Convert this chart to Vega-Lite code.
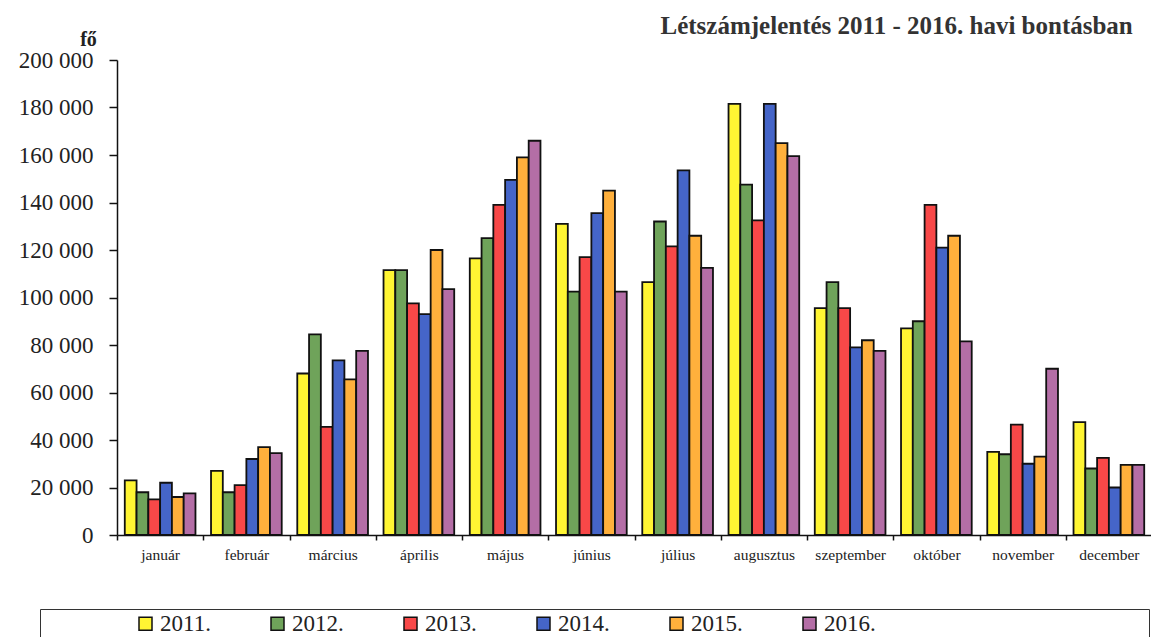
{
  "$schema": "https://vega.github.io/schema/vega-lite/v6.json",
  "width": 1035,
  "height": 475,
  "autosize": {"type": "none"},
  "padding": {"left": 117, "top": 60, "right": 0, "bottom": 102},
  "background": "white",
  "title": {
    "text": "Létszámjelentés 2011 - 2016. havi bontásban",
    "anchor": "end",
    "font": "Liberation Serif",
    "fontSize": 25,
    "fontWeight": "bold",
    "color": "#333333",
    "dx": -20,
    "offset": 0,
    "dy": 10
  },
  "data": {
    "values": [
      {"honap": "január", "ev": "2011.", "fo": 23000},
      {"honap": "január", "ev": "2012.", "fo": 18000},
      {"honap": "január", "ev": "2013.", "fo": 15000},
      {"honap": "január", "ev": "2014.", "fo": 22000},
      {"honap": "január", "ev": "2015.", "fo": 16000},
      {"honap": "január", "ev": "2016.", "fo": 17500},
      {"honap": "február", "ev": "2011.", "fo": 27000},
      {"honap": "február", "ev": "2012.", "fo": 18000},
      {"honap": "február", "ev": "2013.", "fo": 21000},
      {"honap": "február", "ev": "2014.", "fo": 32000},
      {"honap": "február", "ev": "2015.", "fo": 37000},
      {"honap": "február", "ev": "2016.", "fo": 34500},
      {"honap": "március", "ev": "2011.", "fo": 68000},
      {"honap": "március", "ev": "2012.", "fo": 84500},
      {"honap": "március", "ev": "2013.", "fo": 45500},
      {"honap": "március", "ev": "2014.", "fo": 73500},
      {"honap": "március", "ev": "2015.", "fo": 65500},
      {"honap": "március", "ev": "2016.", "fo": 77500},
      {"honap": "április", "ev": "2011.", "fo": 111500},
      {"honap": "április", "ev": "2012.", "fo": 111500},
      {"honap": "április", "ev": "2013.", "fo": 97500},
      {"honap": "április", "ev": "2014.", "fo": 93000},
      {"honap": "április", "ev": "2015.", "fo": 120000},
      {"honap": "április", "ev": "2016.", "fo": 103500},
      {"honap": "május", "ev": "2011.", "fo": 116500},
      {"honap": "május", "ev": "2012.", "fo": 125000},
      {"honap": "május", "ev": "2013.", "fo": 139000},
      {"honap": "május", "ev": "2014.", "fo": 149500},
      {"honap": "május", "ev": "2015.", "fo": 159000},
      {"honap": "május", "ev": "2016.", "fo": 166000},
      {"honap": "június", "ev": "2011.", "fo": 131000},
      {"honap": "június", "ev": "2012.", "fo": 102500},
      {"honap": "június", "ev": "2013.", "fo": 117000},
      {"honap": "június", "ev": "2014.", "fo": 135500},
      {"honap": "június", "ev": "2015.", "fo": 145000},
      {"honap": "június", "ev": "2016.", "fo": 102500},
      {"honap": "július", "ev": "2011.", "fo": 106500},
      {"honap": "július", "ev": "2012.", "fo": 132000},
      {"honap": "július", "ev": "2013.", "fo": 121500},
      {"honap": "július", "ev": "2014.", "fo": 153500},
      {"honap": "július", "ev": "2015.", "fo": 126000},
      {"honap": "július", "ev": "2016.", "fo": 112500},
      {"honap": "augusztus", "ev": "2011.", "fo": 181500},
      {"honap": "augusztus", "ev": "2012.", "fo": 147500},
      {"honap": "augusztus", "ev": "2013.", "fo": 132500},
      {"honap": "augusztus", "ev": "2014.", "fo": 181500},
      {"honap": "augusztus", "ev": "2015.", "fo": 165000},
      {"honap": "augusztus", "ev": "2016.", "fo": 159500},
      {"honap": "szeptember", "ev": "2011.", "fo": 95500},
      {"honap": "szeptember", "ev": "2012.", "fo": 106500},
      {"honap": "szeptember", "ev": "2013.", "fo": 95500},
      {"honap": "szeptember", "ev": "2014.", "fo": 79000},
      {"honap": "szeptember", "ev": "2015.", "fo": 82000},
      {"honap": "szeptember", "ev": "2016.", "fo": 77500},
      {"honap": "október", "ev": "2011.", "fo": 87000},
      {"honap": "október", "ev": "2012.", "fo": 90000},
      {"honap": "október", "ev": "2013.", "fo": 139000},
      {"honap": "október", "ev": "2014.", "fo": 121000},
      {"honap": "október", "ev": "2015.", "fo": 126000},
      {"honap": "október", "ev": "2016.", "fo": 81500},
      {"honap": "november", "ev": "2011.", "fo": 35000},
      {"honap": "november", "ev": "2012.", "fo": 34000},
      {"honap": "november", "ev": "2013.", "fo": 46500},
      {"honap": "november", "ev": "2014.", "fo": 30000},
      {"honap": "november", "ev": "2015.", "fo": 33000},
      {"honap": "november", "ev": "2016.", "fo": 70000},
      {"honap": "december", "ev": "2011.", "fo": 47500},
      {"honap": "december", "ev": "2012.", "fo": 28000},
      {"honap": "december", "ev": "2013.", "fo": 32500},
      {"honap": "december", "ev": "2014.", "fo": 20000},
      {"honap": "december", "ev": "2015.", "fo": 29500},
      {"honap": "december", "ev": "2016.", "fo": 29500}
    ]
  },
  "mark": {"type": "bar", "stroke": "#111111", "strokeWidth": 1.8},
  "encoding": {
    "x": {
      "field": "honap",
      "type": "nominal",
      "sort": ["január", "február", "március", "április", "május", "június", "július", "augusztus", "szeptember", "október", "november", "december"],
      "scale": {"paddingInner": 0, "paddingOuter": 0},
      "axis": {
        "title": null,
        "labelAngle": 0,
        "labelFont": "Liberation Serif",
        "labelFontSize": 15.5,
        "labelColor": "#222222",
        "labelPadding": 7,
        "tickBand": "extent",
        "tickSize": 5,
        "tickColor": "#111111",
        "tickWidth": 1.5,
        "domainColor": "#111111",
        "domainWidth": 1.5,
        "grid": false
      }
    },
    "xOffset": {
      "field": "ev",
      "type": "nominal",
      "scale": {"paddingInner": 0, "paddingOuter": 0.66}
    },
    "y": {
      "field": "fo",
      "type": "quantitative",
      "scale": {"domain": [0, 200000], "nice": false},
      "axis": {
        "values": [0, 20000, 40000, 60000, 80000, 100000, 120000, 140000, 160000, 180000, 200000],
        "format": ",d",
        "grid": false,
        "labelFont": "Liberation Serif",
        "labelFontSize": 23,
        "labelColor": "#222222",
        "labelPadding": 16,
        "tickSize": 8,
        "tickColor": "#111111",
        "tickWidth": 1.5,
        "domainColor": "#111111",
        "domainWidth": 1.5,
        "title": "fő",
        "titleAngle": 0,
        "titleX": -29,
        "titleY": -15,
        "titleAlign": "center",
        "titleBaseline": "alphabetic",
        "titleFont": "Liberation Serif",
        "titleFontSize": 20,
        "titleFontWeight": "bold",
        "titleColor": "#222222"
      }
    },
    "color": {
      "field": "ev",
      "type": "nominal",
      "scale": {
        "domain": ["2011.", "2012.", "2013.", "2014.", "2015.", "2016."],
        "range": ["#FFF533", "#6FA35A", "#F84848", "#4565C8", "#FFB03C", "#B46EA6"]
      },
      "legend": {
        "orient": "none",
        "legendX": -77,
        "legendY": 549,
        "direction": "horizontal",
        "columns": 6,
        "title": "\u200b\u00a0\u00a0\u00a0\u00a0\u00a0\u00a0\u00a0\u00a0\u00a0\u00a0\u00a0\u00a0\u00a0\u00a0\u00a0\u200b",
        "titleOrient": "left",
        "titlePadding": 4,
        "titleFontSize": 23,
        "titleFont": "Liberation Serif",
        "padding": 3,
        "strokeColor": "#333333",
        "symbolType": "square",
        "symbolSize": 169,
        "symbolStrokeColor": "#111111",
        "symbolStrokeWidth": 1.5,
        "symbolOpacity": 1,
        "labelFont": "Liberation Serif",
        "labelFontSize": 23,
        "labelColor": "#222222",
        "labelOffset": 3,
        "labelLimit": 600,
        "columnPadding": 55,
        "labelExpr": "datum.label == '2016.' ? datum.label + '\u00a0\u00a0\u00a0\u00a0\u00a0\u00a0\u00a0\u00a0\u00a0\u00a0\u00a0\u00a0\u00a0\u00a0\u00a0\u00a0\u00a0\u00a0\u00a0\u00a0\u00a0\u00a0\u00a0\u00a0\u00a0\u00a0\u00a0\u00a0\u00a0\u00a0\u00a0\u00a0\u00a0\u00a0\u00a0\u00a0\u00a0\u00a0\u00a0\u00a0\u00a0\u00a0\u00a0\u00a0\u00a0\u00a0\u00a0\u200b' : datum.label"
      }
    }
  },
  "config": {
    "locale": {
      "number": {"decimal": ",", "thousands": " ", "grouping": [3], "currency": ["", ""]}
    },
    "view": {"stroke": null}
  }
}
